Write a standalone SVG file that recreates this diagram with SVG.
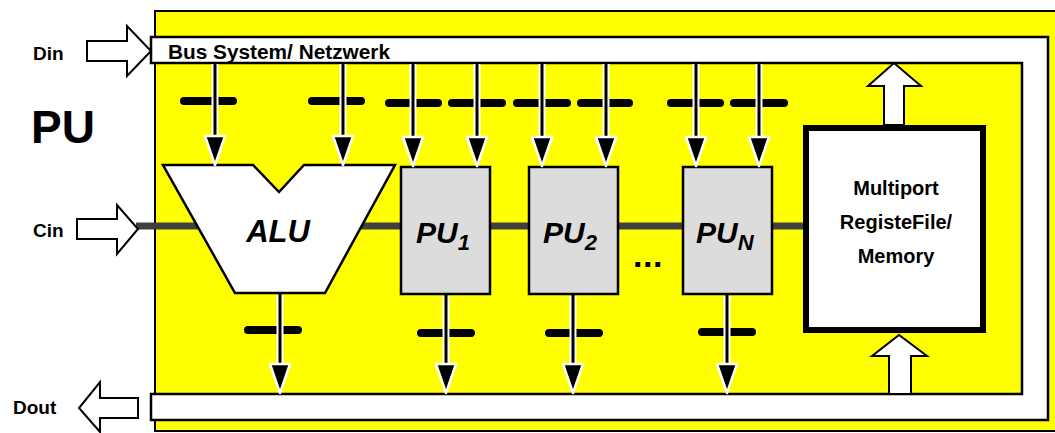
<svg xmlns="http://www.w3.org/2000/svg" xmlns:xlink="http://www.w3.org/1999/xlink" width="1055" height="433" viewBox="0 0 1055 433">
<style>
.halo{stroke:#fff;stroke-width:7;fill:none}
.shaft{stroke:#000;stroke-width:3;fill:none}
.head{fill:#000;stroke:#fff;stroke-width:2.5;stroke-linejoin:round}
.bar{stroke:#000;stroke-width:8;stroke-linecap:round;fill:none}
.lbl{font-family:"Liberation Sans",Arial,sans-serif;font-weight:bold;fill:#000}
.pu{font-family:"Liberation Sans",Arial,sans-serif;font-weight:bold;font-style:italic;fill:#000;font-size:30px}
.sub{font-size:22px}
.blk{fill:#fff;stroke:#000;stroke-width:2;stroke-linejoin:miter}
.box{fill:#dcdcdc;stroke:#000;stroke-width:2.5}
</style>
<defs>
<path id="hd" class="head" d="M-10,-29 L10,-29 L0,0 Z"/>
</defs>
<rect width="1055" height="433" fill="#fff"/>
<g id="frame">
<rect x="155" y="11" width="910" height="420" fill="#ffff00" stroke="#000" stroke-width="2"/>
</g>
<g id="bus">
<path d="M151,37 H1048 V420 H151 V394 H1022 V63 H151 Z" fill="#fff" stroke="#000" stroke-width="2.5"/>
<text class="lbl" x="168" y="59" font-size="20" textLength="222" lengthAdjust="spacingAndGlyphs">Bus System/ Netzwerk</text>
</g>
<g id="connectors">
<line x1="136" y1="226" x2="806" y2="226" stroke="#404040" stroke-width="7"/>
</g>
<g id="alu">
<path d="M163,165 L253,165 L279,192 L304,165 L395,165 L325,293 L235,293 Z" fill="#fff" stroke="#000" stroke-width="2.5" stroke-linejoin="miter"/>
<text class="pu" x="278" y="242" text-anchor="middle" style="font-size:31px">ALU</text>
</g>
<g id="pu1">
<rect class="box" x="401" y="167" width="89" height="127"/>
<text class="pu" x="416" y="243">PU<tspan class="sub" dy="7">1</tspan></text>
</g>
<g id="pu2">
<rect class="box" x="529" y="167" width="89" height="127"/>
<text class="pu" x="543" y="243">PU<tspan class="sub" dy="7">2</tspan></text>
</g>
<g id="dots">
<text class="lbl" x="633" y="267" font-size="34" letter-spacing="0.5">...</text>
</g>
<g id="pun">
<rect class="box" x="683" y="167" width="89" height="127"/>
<text class="pu" x="696" y="243">PU<tspan class="sub" dy="7">N</tspan></text>
</g>
<g id="memory">
<rect x="806" y="128" width="177" height="202" fill="#fff" stroke="#000" stroke-width="6"/>
<text class="lbl" font-size="20" text-anchor="middle"><tspan x="896" y="195">Multiport</tspan><tspan x="896" y="229">RegisteFile/</tspan><tspan x="896" y="263">Memory</tspan></text>
</g>
<g id="io">
<path class="blk" d="M87,41 H127 V26 L151,51 L127,76 V61 H87 Z"/>
<text class="lbl" x="33" y="60" font-size="19">Din</text>
<path class="blk" d="M77,219 H117 V205 L138,229 L117,254 V239 H77 Z"/>
<text class="lbl" x="33" y="237" font-size="19">Cin</text>
<path class="blk" d="M138,398 H100 V382 L79,408 L100,432 V418 H138 Z"/>
<text class="lbl" x="13" y="414" font-size="19">Dout</text>
<text class="lbl" x="31" y="143" font-size="46">PU</text>
<path class="blk" d="M884,125 V86 H868 L894,63 L921,86 H904 V125 Z"/>
<path class="blk" d="M889,394 V356 H872 L899,335 L927,356 H911 V394 Z"/>
</g>
<g id="bars">
<line class="bar" x1="184" y1="101" x2="233" y2="101"/>
<line class="bar" x1="312" y1="101" x2="361" y2="101"/>
<line class="bar" x1="389" y1="103" x2="438" y2="103"/>
<line class="bar" x1="452" y1="103" x2="502" y2="103"/>
<line class="bar" x1="517" y1="103" x2="567" y2="103"/>
<line class="bar" x1="581" y1="103" x2="629" y2="103"/>
<line class="bar" x1="671" y1="103" x2="720" y2="103"/>
<line class="bar" x1="734" y1="103" x2="784" y2="103"/>
<line class="bar" x1="248" y1="330" x2="298" y2="330"/>
<line class="bar" x1="421" y1="333" x2="471" y2="333"/>
<line class="bar" x1="549" y1="333" x2="599" y2="333"/>
<line class="bar" x1="702" y1="332" x2="752" y2="332"/>
</g>
<g id="arrows">
<g transform="translate(215,0)"><line class="halo" x1="0" y1="64" x2="0" y2="138"/><line class="shaft" x1="0" y1="64" x2="0" y2="140"/><use xlink:href="#hd" y="165"/></g>
<g transform="translate(343,0)"><line class="halo" x1="0" y1="64" x2="0" y2="138"/><line class="shaft" x1="0" y1="64" x2="0" y2="140"/><use xlink:href="#hd" y="165"/></g>
<g transform="translate(413,0)"><line class="halo" x1="0" y1="64" x2="0" y2="139"/><line class="shaft" x1="0" y1="64" x2="0" y2="141"/><use xlink:href="#hd" y="166"/></g>
<g transform="translate(477,0)"><line class="halo" x1="0" y1="64" x2="0" y2="139"/><line class="shaft" x1="0" y1="64" x2="0" y2="141"/><use xlink:href="#hd" y="166"/></g>
<g transform="translate(542,0)"><line class="halo" x1="0" y1="64" x2="0" y2="139"/><line class="shaft" x1="0" y1="64" x2="0" y2="141"/><use xlink:href="#hd" y="166"/></g>
<g transform="translate(606,0)"><line class="halo" x1="0" y1="64" x2="0" y2="139"/><line class="shaft" x1="0" y1="64" x2="0" y2="141"/><use xlink:href="#hd" y="166"/></g>
<g transform="translate(696,0)"><line class="halo" x1="0" y1="64" x2="0" y2="139"/><line class="shaft" x1="0" y1="64" x2="0" y2="141"/><use xlink:href="#hd" y="166"/></g>
<g transform="translate(759,0)"><line class="halo" x1="0" y1="64" x2="0" y2="139"/><line class="shaft" x1="0" y1="64" x2="0" y2="141"/><use xlink:href="#hd" y="166"/></g>
<g transform="translate(280,0)"><line class="halo" x1="0" y1="295" x2="0" y2="366"/><line class="shaft" x1="0" y1="294" x2="0" y2="368"/><use xlink:href="#hd" y="393"/></g>
<g transform="translate(446,0)"><line class="halo" x1="0" y1="296" x2="0" y2="366"/><line class="shaft" x1="0" y1="295" x2="0" y2="368"/><use xlink:href="#hd" y="393"/></g>
<g transform="translate(573,0)"><line class="halo" x1="0" y1="296" x2="0" y2="366"/><line class="shaft" x1="0" y1="295" x2="0" y2="368"/><use xlink:href="#hd" y="393"/></g>
<g transform="translate(727,0)"><line class="halo" x1="0" y1="296" x2="0" y2="366"/><line class="shaft" x1="0" y1="295" x2="0" y2="368"/><use xlink:href="#hd" y="393"/></g>
</g>
</svg>
